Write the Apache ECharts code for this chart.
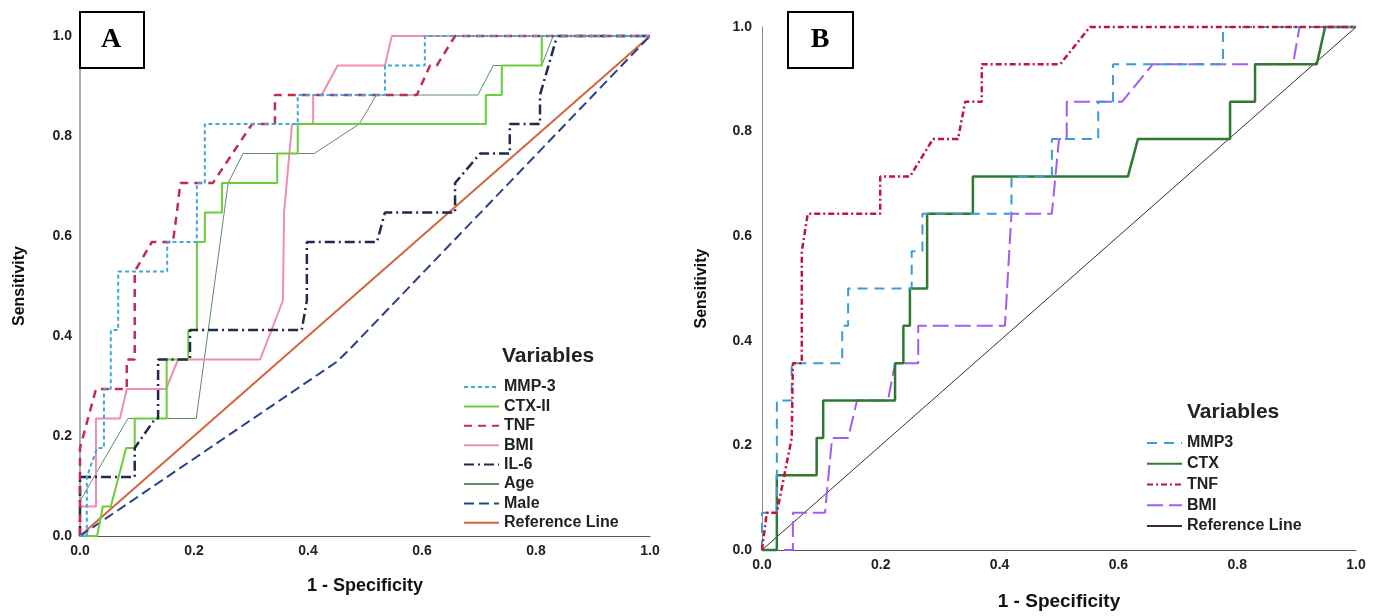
<!DOCTYPE html>
<html lang="en">
<head>
  <meta charset="utf-8">
  <title>ROC curves A / B</title>
  <script src="https://cdn.jsdelivr.net/npm/echarts@6/dist/echarts.min.js"></script>
  <style>
    html, body { margin: 0; padding: 0; background: #fff; }
  </style>
</head>
<body>
  <div id="main" style="width:1382px;height:616px;"></div>

<script type="text/javascript">
// panel A curves, [1 - specificity, sensitivity]
var aMmp3 = [[0,0],[0.012,0],[0.012,0.118],[0.03,0.176],[0.042,0.176],[0.042,0.294],[0.054,0.294],[0.054,0.412],[0.067,0.412],[0.067,0.529],[0.153,0.529],[0.153,0.588],[0.205,0.588],[0.205,0.706],[0.219,0.706],[0.219,0.824],[0.382,0.824],[0.382,0.882],[0.535,0.882],[0.535,0.941],[0.605,0.941],[0.605,1],[1,1]];
var aCtx = [[0,0],[0.03,0],[0.04,0.059],[0.054,0.059],[0.081,0.176],[0.096,0.176],[0.096,0.235],[0.152,0.235],[0.152,0.353],[0.19,0.353],[0.19,0.412],[0.205,0.412],[0.205,0.588],[0.219,0.588],[0.219,0.647],[0.249,0.647],[0.249,0.706],[0.346,0.706],[0.346,0.765],[0.382,0.765],[0.382,0.824],[0.712,0.824],[0.712,0.882],[0.74,0.882],[0.74,0.941],[0.81,0.941],[0.81,1],[1,1]];
var aTnf = [[0,0],[0,0.176],[0.028,0.294],[0.082,0.294],[0.082,0.353],[0.096,0.353],[0.096,0.529],[0.126,0.588],[0.163,0.588],[0.17,0.647],[0.176,0.706],[0.233,0.706],[0.302,0.824],[0.342,0.824],[0.342,0.882],[0.591,0.882],[0.614,0.941],[0.626,0.941],[0.658,1],[1,1]];
var aBmi = [[0,0],[0,0.059],[0.028,0.059],[0.028,0.235],[0.07,0.235],[0.082,0.294],[0.151,0.294],[0.172,0.353],[0.316,0.353],[0.356,0.471],[0.358,0.647],[0.372,0.824],[0.409,0.824],[0.409,0.882],[0.424,0.882],[0.452,0.941],[0.535,0.941],[0.547,1],[1,1]];
var aIl6 = [[0,0],[0,0.118],[0.096,0.118],[0.096,0.176],[0.132,0.235],[0.137,0.235],[0.137,0.353],[0.193,0.353],[0.193,0.412],[0.389,0.412],[0.398,0.471],[0.398,0.588],[0.521,0.588],[0.535,0.647],[0.658,0.647],[0.658,0.706],[0.702,0.765],[0.754,0.765],[0.754,0.824],[0.807,0.824],[0.807,0.882],[0.837,1],[1,1]];
var aAge = [[0,0],[0,0.07],[0.084,0.235],[0.204,0.235],[0.26,0.706],[0.286,0.765],[0.411,0.765],[0.49,0.824],[0.52,0.882],[0.698,0.882],[0.725,0.941],[0.81,0.941],[0.83,1],[1,1]];
var aMale = [[0,0],[0.45,0.348],[0.47,0.37],[1,1]];
var aRef = [[0,0],[1,1]];

// panel B curves
var bMmp3 = [[0,0],[0,0.071],[0.025,0.071],[0.025,0.286],[0.05,0.286],[0.05,0.357],[0.135,0.357],[0.135,0.429],[0.145,0.429],[0.145,0.5],[0.252,0.5],[0.252,0.571],[0.27,0.571],[0.27,0.643],[0.42,0.643],[0.42,0.714],[0.488,0.714],[0.488,0.786],[0.566,0.786],[0.566,0.857],[0.591,0.857],[0.591,0.929],[0.776,0.929],[0.776,1],[1,1]];
var bCtx = [[0,0],[0.025,0],[0.025,0.143],[0.092,0.143],[0.092,0.214],[0.103,0.214],[0.103,0.286],[0.224,0.286],[0.224,0.357],[0.238,0.357],[0.238,0.429],[0.249,0.429],[0.249,0.5],[0.278,0.5],[0.278,0.643],[0.355,0.643],[0.355,0.714],[0.616,0.714],[0.633,0.786],[0.788,0.786],[0.788,0.857],[0.83,0.857],[0.83,0.929],[0.934,0.929],[0.948,1],[1,1]];
var bTnf = [[0,0],[0.008,0.071],[0.025,0.071],[0.05,0.214],[0.052,0.357],[0.067,0.357],[0.067,0.571],[0.077,0.643],[0.199,0.643],[0.199,0.714],[0.249,0.714],[0.288,0.786],[0.33,0.786],[0.342,0.857],[0.37,0.857],[0.37,0.929],[0.502,0.929],[0.552,1],[1,1]];
var bBmi = [[0,0],[0.052,0],[0.052,0.071],[0.106,0.071],[0.118,0.214],[0.145,0.214],[0.16,0.286],[0.212,0.286],[0.224,0.357],[0.263,0.357],[0.263,0.429],[0.409,0.429],[0.42,0.643],[0.488,0.643],[0.5,0.786],[0.513,0.786],[0.513,0.857],[0.606,0.857],[0.658,0.929],[0.894,0.929],[0.905,1],[1,1]];
var bRef = [[0,0],[1,1]];

var aNames = ['MMP-3','CTX-II','TNF','BMI','IL-6','Age','Male','Reference Line'];
// trailing spaces keep B legend icons tied to B series
var bNames = ['MMP3','CTX','TNF ','BMI ','Reference Line '];

var myChart = echarts.init(document.getElementById('main'));

function curve(name, data, idx, color, width, type) {
    return {
        name: name, type: 'line', data: data,
        xAxisIndex: idx, yAxisIndex: idx,
        symbol: 'none', clip: false, animation: false,
        lineStyle: { color: color, width: width, type: type },
        itemStyle: { color: color }
    };
}

function xAx(idx, name, gap, size) {
    return {
        type: 'value', gridIndex: idx, min: 0, max: 1, interval: 0.2,
        name: name, nameLocation: 'middle', nameGap: gap,
        nameTextStyle: { fontFamily: 'Liberation Sans', fontWeight: 'bold', fontSize: size, color: '#111' },
        axisLine: { show: true, lineStyle: { color: '#555', width: 1 } },
        axisTick: { show: false }, splitLine: { show: false },
        axisLabel: { formatter: function (v) { return v.toFixed(1); }, margin: 8,
            fontFamily: 'Liberation Sans', fontWeight: 'bold', fontSize: 14, color: '#222' }
    };
}

function yAx(idx, gap, lineColor, lineWidth, margin) {
    return {
        type: 'value', gridIndex: idx, min: 0, max: 1, interval: 0.2,
        name: 'Sensitivity', nameLocation: 'middle', nameGap: gap, nameRotate: 90,
        nameTextStyle: { fontFamily: 'Liberation Sans', fontWeight: 'bold', fontSize: 16, color: '#111' },
        axisLine: { show: true, lineStyle: { color: lineColor, width: lineWidth } },
        axisTick: { show: false }, splitLine: { show: false },
        axisLabel: { formatter: function (v) { return v.toFixed(1); }, margin: margin,
            fontFamily: 'Liberation Sans', fontWeight: 'bold', fontSize: 14, color: '#222' }
    };
}

var legendText = { fontFamily: 'Liberation Sans', fontWeight: 'bold', fontSize: 16, color: '#222' };

option = {
    backgroundColor: '#fff',
    animation: false,
    grid: [
        { left: 80, top: 36, width: 570, height: 500 },
        { left: 762, top: 27, width: 594, height: 525 }
    ],
    xAxis: [ xAx(0, '1 - Specificity', 41, 18), xAx(1, '1 - Specificity', 42, 19) ],
    yAxis: [ yAx(0, 52, '#aaa', 2, 8), yAx(1, 52, '#888', 1, 10) ],
    title: [
        { text: 'Variables', left: 502, top: 346, padding: 0,
          textStyle: { fontFamily: 'Liberation Sans', fontWeight: 'bold', fontSize: 21, color: '#222' } },
        { text: 'Variables', left: 1187, top: 402, padding: 0,
          textStyle: { fontFamily: 'Liberation Sans', fontWeight: 'bold', fontSize: 21, color: '#222' } }
    ],
    legend: [
        { data: aNames, orient: 'vertical', left: 463, top: 379, padding: 0,
          itemWidth: 35, itemHeight: 14, itemGap: 3.4, textStyle: legendText, selectedMode: false,
          itemStyle: { opacity: 0 } },
        { data: bNames, orient: 'vertical', left: 1146, top: 435, padding: 0,
          itemWidth: 35, itemHeight: 14, itemGap: 4.75, textStyle: legendText, selectedMode: false,
          itemStyle: { opacity: 0 } }
    ],
    graphic: [
        { type: 'rect', left: 79, top: 11, z: 100, shape: { width: 64, height: 56 },
          style: { fill: '#fff', stroke: '#000', lineWidth: 2 } },
        { type: 'text', x: 111, y: 40, z: 101,
          style: { text: 'A', font: 'bold 28px "Liberation Serif"', fill: '#000', align: 'center', verticalAlign: 'middle' } },
        { type: 'rect', left: 787, top: 11, z: 100, shape: { width: 65, height: 56 },
          style: { fill: '#fff', stroke: '#000', lineWidth: 2 } },
        { type: 'text', x: 820, y: 40, z: 101,
          style: { text: 'B', font: 'bold 28px "Liberation Serif"', fill: '#000', align: 'center', verticalAlign: 'middle' } }
    ],
    series: [
        curve('Reference Line', aRef, 0, '#d2643c', 2, 'solid'),
        curve('Male', aMale, 0, '#27408f', 2, [10, 5]),
        curve('Age', aAge, 0, '#5e8c66', 1, 'solid'),
        curve('BMI', aBmi, 0, '#f08cb6', 2, 'solid'),
        curve('CTX-II', aCtx, 0, '#6acd3a', 2, 'solid'),
        curve('IL-6', aIl6, 0, '#1e2a4e', 2.5, [10, 4, 2, 4]),
        curve('TNF', aTnf, 0, '#c42a58', 2.5, [8, 6]),
        curve('MMP-3', aMmp3, 0, '#40a6dc', 2, [4, 3]),

        curve('Reference Line ', bRef, 1, '#3d2b2b', 1, 'solid'),
        curve('BMI ', bBmi, 1, '#a45cf0', 2, [16, 6]),
        curve('CTX', bCtx, 1, '#2f7a30', 2.5, 'solid'),
        curve('MMP3', bMmp3, 1, '#3b9bd8', 2, [10, 7]),
        curve('TNF ', bTnf, 1, '#c0143c', 2.5, [6, 3, 2, 3])
    ]
};

if (option && typeof option === "object") {
    myChart.setOption(option, true);
}
</script>
</body>
</html>
